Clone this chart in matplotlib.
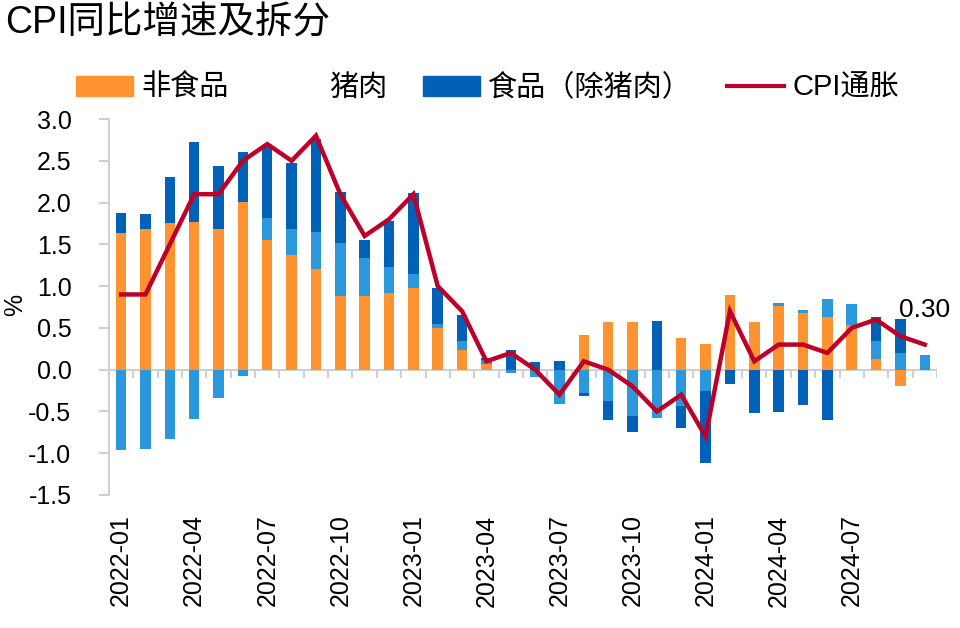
import numpy as np
import matplotlib
matplotlib.use('Agg')
from matplotlib import pyplot as plt
from matplotlib.patches import Patch
from matplotlib.lines import Line2D

plt.rcParams['font.family'] = ['Liberation Sans', 'Noto Sans CJK SC', 'DejaVu Sans']

# 数据 (2022-01 ~ 2024-10)
months = ['2022-01', '2022-02', '2022-03', '2022-04', '2022-05', '2022-06',
          '2022-07', '2022-08', '2022-09', '2022-10', '2022-11', '2022-12',
          '2023-01', '2023-02', '2023-03', '2023-04', '2023-05', '2023-06',
          '2023-07', '2023-08', '2023-09', '2023-10', '2023-11', '2023-12',
          '2024-01', '2024-02', '2024-03', '2024-04', '2024-05', '2024-06',
          '2024-07', '2024-08', '2024-09', '2024-10']
nonfood = [1.64, 1.68, 1.76, 1.77, 1.68, 2.01, 1.55, 1.37, 1.20, 0.88, 0.88, 0.92,
           0.98, 0.50, 0.23, 0.07, 0.00, 0.00, 0.00, 0.41, 0.57, 0.57, 0.00, 0.38,
           0.31, 0.89, 0.57, 0.76, 0.68, 0.63, 0.54, 0.13, -0.19, 0.00]
pork = [-0.96, -0.95, -0.83, -0.59, -0.34, -0.08, 0.27, 0.31, 0.45, 0.64, 0.46, 0.31,
        0.16, 0.05, 0.11, 0.04, -0.04, -0.09, -0.41, -0.28, -0.38, -0.56, -0.58, -0.43,
        -0.26, 0.00, 0.00, 0.04, 0.04, 0.21, 0.24, 0.21, 0.20, 0.18]
food_ex_pork = [0.23, 0.18, 0.55, 0.95, 0.76, 0.59, 0.85, 0.79, 1.11, 0.61, 0.21, 0.55,
                0.97, 0.43, 0.32, 0.03, 0.24, 0.09, 0.10, -0.03, -0.22, -0.19, 0.58, -0.27,
                -0.86, -0.17, -0.52, -0.51, -0.42, -0.60, 0.00, 0.29, 0.41, 0.00]
cpi = [0.9, 0.9, 1.5, 2.1, 2.1, 2.5, 2.7, 2.5, 2.8, 2.1, 1.6, 1.8,
       2.1, 1.0, 0.7, 0.1, 0.2, 0.0, -0.3, 0.1, 0.0, -0.2, -0.5, -0.3,
       -0.8, 0.7, 0.1, 0.3, 0.3, 0.2, 0.5, 0.6, 0.4, 0.3]

c_orange = '#FF9332'
c_light = '#2A98DA'
c_dark = '#0061B7'
c_line = '#BE0028'
c_axis = '#D0D0D0'

fig = plt.figure(figsize=(9.6, 6.28), dpi=100)
ax = fig.add_axes([0.1135, 0.2118, 0.8625, 0.5987])

x = np.arange(len(months))
w = 0.43
pos_b = np.zeros(len(x))
neg_b = np.zeros(len(x))
for vals, col in [(nonfood, c_orange), (pork, c_light), (food_ex_pork, c_dark)]:
    v = np.array(vals)
    b = np.where(v >= 0, pos_b, neg_b)
    ax.bar(x, v, w, bottom=b, color=col, linewidth=0, zorder=2)
    pos_b = pos_b + np.where(v > 0, v, 0)
    neg_b = neg_b + np.where(v < 0, v, 0)

ax.plot(x, cpi, color=c_line, linewidth=3.2, zorder=3, solid_joinstyle='miter')
ax.text(x[-1], 0.72, '%.2f' % cpi[-1], ha='center', va='center', fontsize=19)

# 零轴及刻度
ax.axhline(0, color=c_axis, linewidth=1.5, zorder=1)
ax.vlines(np.arange(len(x) + 1) - 0.5, 0, -0.1, color=c_axis, linewidth=1.5, zorder=1)

ax.set_xlim(-0.5, len(x) - 0.5)
ax.set_ylim(-1.5, 3.0)
ax.set_yticks(np.arange(-1.5, 3.01, 0.5))
ax.set_yticklabels(['%.1f' % t for t in np.arange(-1.5, 3.01, 0.5)])
ax.set_xticks(x[:31:3])
ax.set_xticklabels(months[:31:3], rotation=90)
ax.tick_params(axis='x', length=0, pad=14, labelsize=18)
ax.tick_params(axis='y', length=7, width=1.5, color=c_axis, pad=20, labelsize=18)
for s in ['top', 'right', 'bottom']:
    ax.spines[s].set_visible(False)
ax.spines['left'].set_color(c_axis)
ax.spines['left'].set_linewidth(1.5)
fig.text(0.016, 0.515, '%', rotation=90, fontsize=18, ha='center', va='center')

fig.text(0.005, 0.963, 'CPI同比增速及拆分', fontsize=27, ha='left', va='center')

handles = [Patch(color=c_orange), Patch(color='white'), Patch(color=c_dark),
           Line2D([0], [0], color=c_line, linewidth=3)]
labels = ['非食品', '猪肉', '食品（除猪肉）', 'CPI通胀']
fig.legend(handles, labels, loc='center left', bbox_to_anchor=(0.079, 0.86), ncol=4,
           frameon=False, fontsize=21, handlelength=1.95, handleheight=0.7,
           handletextpad=0.3, columnspacing=1.2, borderpad=0, borderaxespad=0)

plt.savefig('out.png', dpi=100)
